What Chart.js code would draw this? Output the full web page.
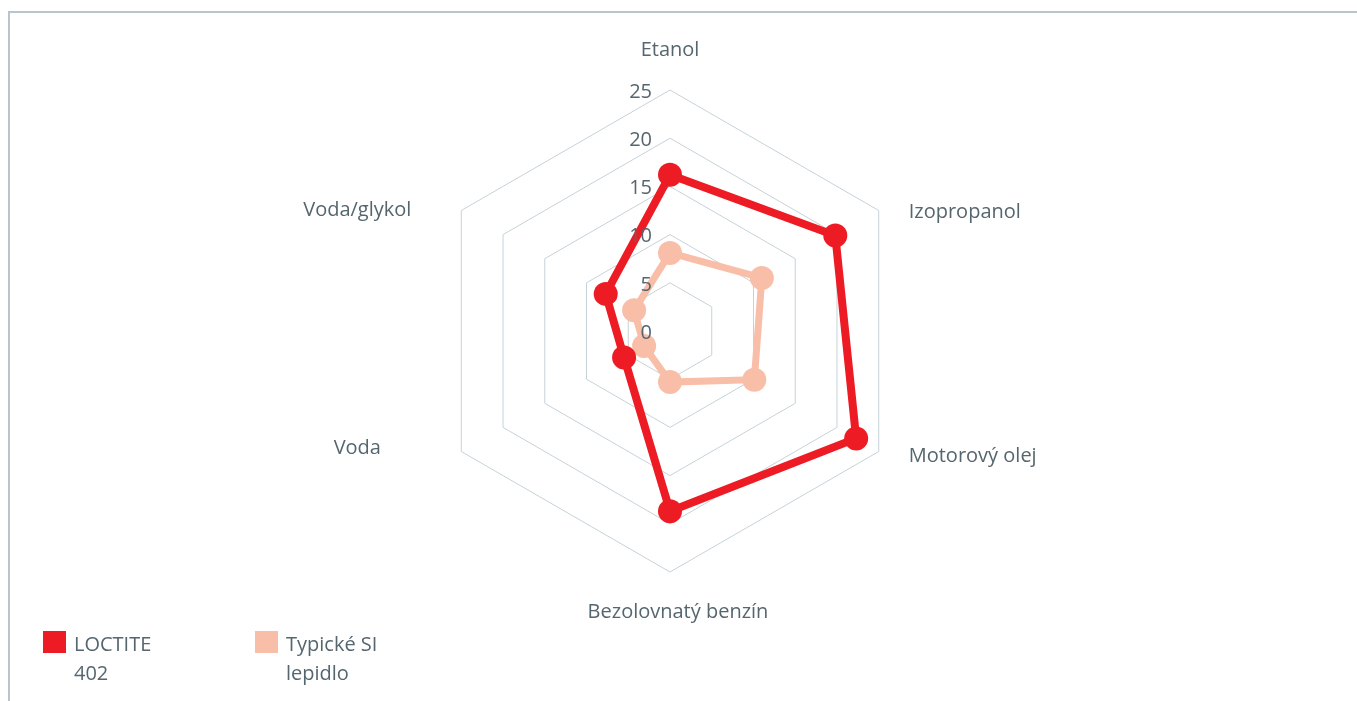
<!DOCTYPE html>
<html>
<head>
<meta charset="utf-8">
<script src="https://cdn.jsdelivr.net/npm/chart.js@4"></script>
<style>
body { margin: 0; background: #fff; font-family: 'Open Sans', sans-serif; }
#frame { position: absolute; left: 8px; top: 11px; right: 0; bottom: 0; border-top: 2px solid #b9c5cd; border-left: 2px solid #b9c5cd; }
#wrap { position: absolute; left: 0; top: 0; width: 1357px; height: 701px; }
#legend { position: absolute; left: 43px; top: 631px; display: flex; }
.item { display: flex; width: 212px; }
.box { width: 23px; height: 22px; margin-right: 8px; flex: none; }
.txt { width: 100px; font-size: 20px; line-height: 29px; color: #55666f; margin-top: -2px; }
</style>
</head>
<body>
<div id="frame"></div>
<div id="wrap"><canvas id="myChart"></canvas></div>
<div id="legend"></div>
<script>
// kategorie (osy)
var categories = ['Etanol', 'Izopropanol', 'Motorový olej', 'Bezolovnatý benzín', 'Voda', 'Voda/glykol'];
// hodnoty
var loctite = [16.2, 19.8, 22.3, 18.7, 5.5, 7.7];
var typicke = [8.1, 11.0, 10.1, 5.3, 3.1, 4.3];
var seriesNames = [['LOCTITE', '402'], ['Typické SI', 'lepidlo']];
var tickValues = [0, 5, 10, 15, 20, 25];

var red = '#ed1c24';
var pink = '#f9bea8';
var textColor = '#55666f';

// popisky os a hodnot kreslíme sami (jiné umístění než Chart.js)
var labelPlugin = {
  id: 'customLabels',
  afterDatasetsDraw: function(chart) {
    var ctx = chart.ctx;
    var r = chart.scales.r;
    ctx.save();
    ctx.font = '20px "Open Sans"';
    ctx.fillStyle = textColor;
    ctx.textBaseline = 'middle';

    ctx.textAlign = 'right';
    tickValues.forEach(function(v) {
      var d = r.getDistanceFromCenterForValue(v);
      ctx.fillText(String(v), r.xCenter - 18, r.yCenter - d + 2);
    });

    for (var i = 0; i < categories.length; i++) {
      var p = r.getPointPosition(i, r.drawingArea);
      var deg = Math.round(r.getIndexAngle(i) * 180 / Math.PI);
      if (deg === 0) {
        ctx.textAlign = 'center';
        ctx.fillText(categories[i], p.x, p.y - 40);
      } else if (deg === 180) {
        ctx.textAlign = 'center';
        ctx.fillText(categories[i], p.x + 8, p.y + 40);
      } else if (deg < 180) {
        ctx.textAlign = 'left';
        ctx.fillText(categories[i], p.x + 30, p.y + (deg > 90 ? 5 : 2));
      } else {
        ctx.textAlign = 'center';
        ctx.fillText(categories[i], p.x - 104, p.y + (deg < 270 ? -3 : 0));
      }
    }
    ctx.restore();
  }
};

var ctx = document.getElementById('myChart').getContext('2d');
var chart = new Chart(ctx, {
  type: 'radar',
  data: {
    labels: categories,
    datasets: [{
      label: seriesNames[0].join(' '),
      data: loctite,
      borderColor: red,
      backgroundColor: red,
      pointBackgroundColor: red,
      borderWidth: 8,
      pointRadius: 12,
      pointBorderWidth: 0,
      fill: false
    }, {
      label: seriesNames[1].join(' '),
      data: typicke,
      borderColor: pink,
      backgroundColor: pink,
      pointBackgroundColor: pink,
      borderWidth: 7,
      pointRadius: 12,
      pointBorderWidth: 0,
      fill: false
    }]
  },
  options: {
    responsive: true,
    maintainAspectRatio: false,
    animation: false,
    layout: { padding: { top: 90, bottom: 129, left: 0, right: 17 } },
    plugins: { legend: { display: false }, tooltip: { enabled: false } },
    scales: {
      r: {
        min: 0,
        max: 25,
        ticks: { stepSize: 5, display: false },
        grid: { color: '#c6d2d9', lineWidth: 1 },
        angleLines: { display: false },
        pointLabels: { display: false }
      }
    }
  },
  plugins: [labelPlugin]
});

// legenda v HTML (text se zalamuje do dvou řádků)
var legend = document.getElementById('legend');
chart.data.datasets.forEach(function(ds, i) {
  var item = document.createElement('div');
  item.className = 'item';
  item.innerHTML = '<div class="box" style="background:' + ds.borderColor + '"></div>' +
    '<div class="txt">' + seriesNames[i].join('<br>') + '</div>';
  legend.appendChild(item);
});
</script>
</body>
</html>
